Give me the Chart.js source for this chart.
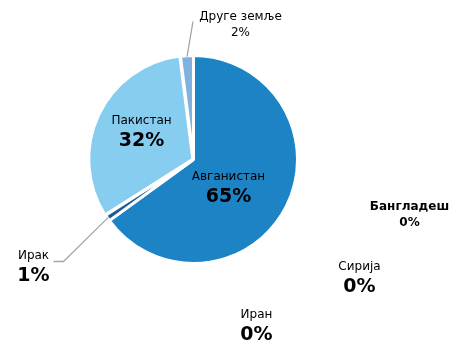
<!DOCTYPE html>
<html>
<head>
<meta charset="utf-8">
<script src="https://cdn.jsdelivr.net/npm/chart.js@4"></script>
<style>
  html, body { margin: 0; padding: 0; background: #fff; }
  #wrap { width: 463px; height: 345px; }
</style>
</head>
<body>
<div id="wrap"><canvas id="pita"></canvas></div>
<script>
// Земље порекла и њихови удели (%)
const zemlje = ["Авганистан", "Бангладеш", "Сирија", "Иран", "Ирак", "Пакистан", "Друге земље"];
const udeli = [65, 0, 0, 0, 1, 32, 2];
const boje = ["#1c83c5", "#1c83c5", "#1c83c5", "#1c83c5", "#1f5a96", "#86cdf0", "#80b2e0"];

// Где иде натпис: центар натписа у односу на центар пите, и да ли има линију
const natpisi = [
  { dx: 35, dy: 28, veliki: true },
  { dx: 216, dy: 55, mali: true, podebljan: true },
  { dx: 166, dy: 118, veliki: true },
  { dx: 63, dy: 166, veliki: true },
  { dx: -160, dy: 107, veliki: true, linija: [[-130, 102], [-140, 102]] },
  { dx: -52, dy: -28, veliki: true },
  { dx: 47, dy: -135, mali: true, linija: [[-0.5, -138]] }
];

const font = "'DejaVu Sans', Verdana, sans-serif";

const natpisiPlugin = {
  id: "natpisi",
  afterDatasetsDraw(chart) {
    const ctx = chart.ctx;
    const meta = chart.getDatasetMeta(0);
    ctx.save();
    ctx.textAlign = "center";
    ctx.textBaseline = "middle";
    ctx.fillStyle = "#000";
    meta.data.forEach((arc, i) => {
      const n = natpisi[i];
      const cx = arc.x, cy = arc.y;
      const x = cx + n.dx, y = cy + n.dy;

      // линија од ивице исечка до натписа
      if (n.linija) {
        const ugao = (arc.startAngle + arc.endAngle) / 2;
        ctx.beginPath();
        ctx.strokeStyle = "#a6a6a6";
        ctx.lineWidth = 1.3;
        ctx.moveTo(cx + Math.cos(ugao) * (arc.outerRadius - 1), cy + Math.sin(ugao) * (arc.outerRadius - 1));
        n.linija.forEach(([lx, ly]) => ctx.lineTo(cx + lx, cy + ly));
        ctx.stroke();
      }

      const procenat = udeli[i] + "%";
      if (n.mali) {
        ctx.font = (n.podebljan ? "bold " : "") + "12px " + font;
        ctx.fillText(zemlje[i], x, y - 8);
        ctx.fillText(procenat, x, y + 8);
      } else {
        ctx.font = "12px " + font;
        ctx.fillText(zemlje[i], x, y - 11);
        ctx.font = "bold 19px " + font;
        ctx.fillText(procenat, x, y + 10);
      }
    });
    ctx.restore();
  }
};

new Chart(document.getElementById("pita"), {
  type: "pie",
  data: {
    labels: zemlje,
    datasets: [{
      data: udeli,
      backgroundColor: boje,
      borderColor: "#fff",
      borderWidth: 3,
      offset: [0, 0, 0, 0, 0, 3, 0]
    }]
  },
  options: {
    responsive: true,
    maintainAspectRatio: false,
    animation: false,
    radius: 104,
    layout: { padding: { left: 0, right: 76, top: 0, bottom: 26 } },
    plugins: {
      legend: { display: false },
      tooltip: { enabled: false }
    }
  },
  plugins: [natpisiPlugin]
});
</script>
</body>
</html>
